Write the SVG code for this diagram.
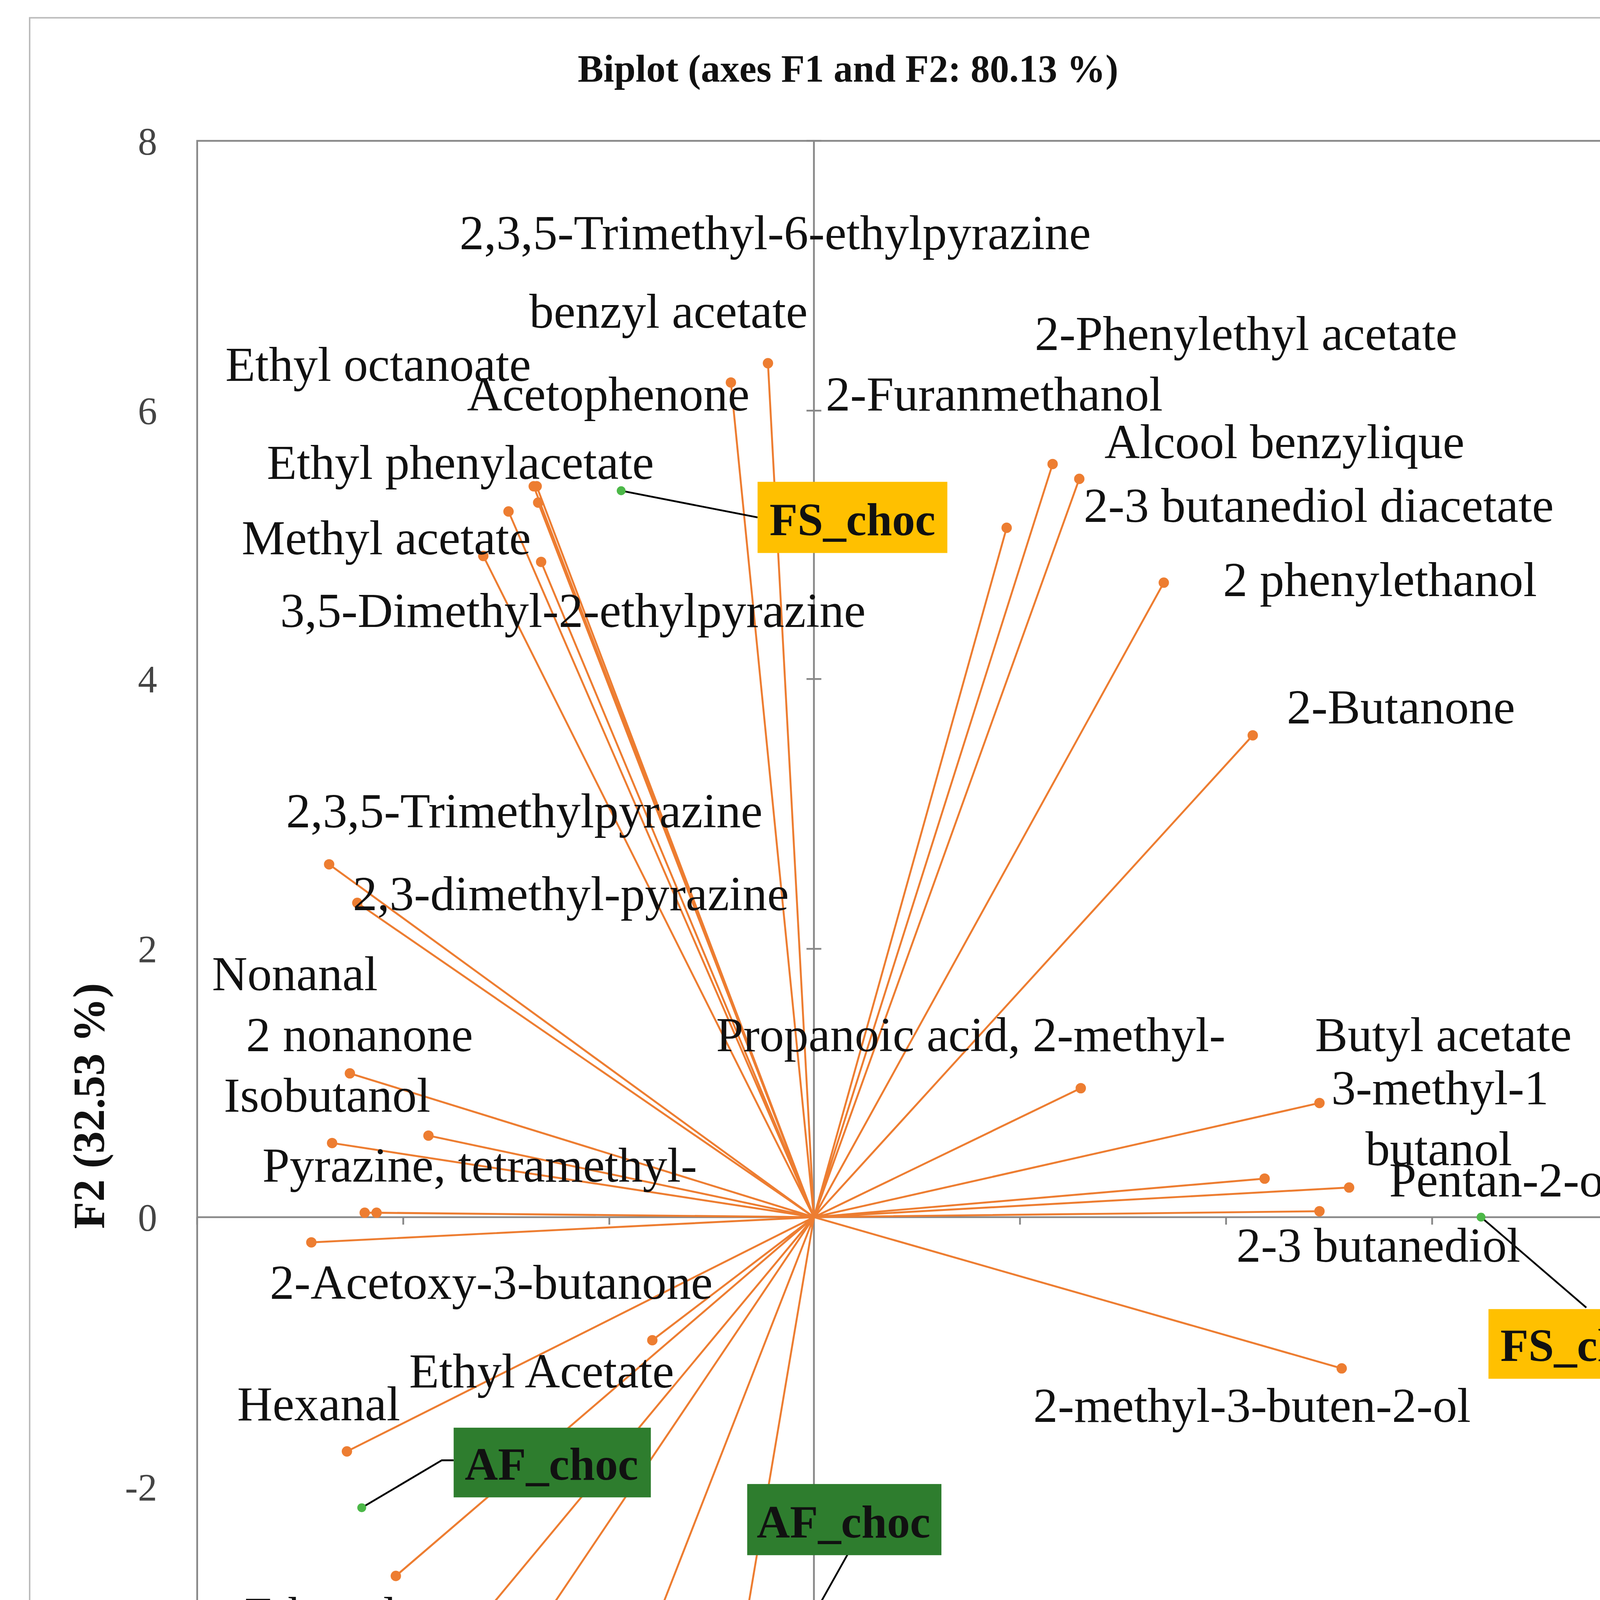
<svg xmlns="http://www.w3.org/2000/svg" width="4338" height="5939" viewBox="0 0 4338 5939">
<style>
.v{stroke:#ED7D31;stroke-width:1.3;fill:none}
.d{fill:#ED7D31}
.g{fill:#4CB848}
.l{font-family:"Liberation Serif",serif;font-size:33px;fill:#111}
.t{font-family:"Liberation Serif",serif;font-size:26px;fill:#444}
.b{font-family:"Liberation Serif",serif;font-weight:bold;fill:#111}
.ax{stroke:#888;stroke-width:1.2;fill:none}
.c{stroke:#000;stroke-width:1.2;fill:none}
</style>
<rect width="4338" height="5939" fill="#fff"/>
<g transform="scale(3.7953)">
<rect x="20" y="12" width="1102" height="1546" fill="none" stroke="#bbb" stroke-width="1"/>
<g id="frame">
<rect x="133" y="95" width="972" height="1271" class="ax"/>
<line x1="133" y1="821" x2="1105" y2="821" class="ax"/>
<line x1="549" y1="95" x2="549" y2="1366" class="ax"/>
<path class="ax" d="M133 821v5M272 821v5M411 821v5M688 821v5M827 821v5M966 821v5M544 95h10M544 277h10M544 458h10M544 640h10M544 1003h10M544 1185h10"/>
</g>
<g id="ticks" class="t" text-anchor="end">
<text x="106" y="104">8</text><text x="106" y="286">6</text><text x="106" y="467">4</text><text x="106" y="649">2</text><text x="106" y="830">0</text><text x="106" y="1012">-2</text><text x="106" y="1194">-4</text><text x="106" y="1375">-6</text>
</g>
<g class="t" text-anchor="middle">
<text x="133" y="1414">-6</text><text x="272" y="1414">-4</text><text x="411" y="1414">-2</text><text x="549" y="1414">0</text><text x="688" y="1414">2</text><text x="827" y="1414">4</text><text x="966" y="1414">6</text><text x="1105" y="1414">8</text>
</g>
<text class="b" x="572" y="55" font-size="26" text-anchor="middle">Biplot (axes F1 and F2: 80.13 %)</text>
<text class="b" x="619" y="1459" font-size="30" text-anchor="middle">F1 (47.61 %)</text>
<text class="b" font-size="30" text-anchor="middle" transform="translate(70,746) rotate(-90)">F2 (32.53 %)</text>
<text class="b" x="47" y="1515" font-size="28">B</text>
<g id="connectors">
<path class="v" d="M549 821L518 245M549 821L493 258M549 821L360 328M549 821L362 328M549 821L363 339M549 821L343 345M549 821L326 375M549 821L365 379M549 821L679 356M549 821L710 313M549 821L728 323M549 821L785 393M549 821L845 496M549 821L222 583M549 821L241 609M549 821L236 724M549 821L289 766M549 821L224 771M549 821L246 818M549 821L254 818M549 821L210 838M549 821L729 734M549 821L890 744M549 821L853 795M549 821L910 801M549 821L890 817M549 821L905 923M549 821L440 904M549 821L234 979M549 821L267 1063M549 821L299 1122M549 821L304 1185M549 821L430 1126M549 821L483 1212"/>
<path class="c" d="M419 331L511 349M999 821L1070 882M244 1017L298 985H306M535 1114L572 1048"/>
</g>
<g id="dots">
<g class="d">
<circle cx="518" cy="245" r="3.5"/><circle cx="493" cy="258" r="3.5"/><circle cx="360" cy="328" r="3.5"/><circle cx="362" cy="328" r="3.5"/><circle cx="363" cy="339" r="3.5"/><circle cx="343" cy="345" r="3.5"/><circle cx="326" cy="375" r="3.5"/><circle cx="365" cy="379" r="3.5"/><circle cx="679" cy="356" r="3.5"/><circle cx="710" cy="313" r="3.5"/><circle cx="728" cy="323" r="3.5"/><circle cx="785" cy="393" r="3.5"/><circle cx="845" cy="496" r="3.5"/><circle cx="222" cy="583" r="3.5"/><circle cx="241" cy="609" r="3.5"/><circle cx="236" cy="724" r="3.5"/><circle cx="289" cy="766" r="3.5"/><circle cx="224" cy="771" r="3.5"/><circle cx="246" cy="818" r="3.5"/><circle cx="254" cy="818" r="3.5"/><circle cx="210" cy="838" r="3.5"/><circle cx="729" cy="734" r="3.5"/><circle cx="890" cy="744" r="3.5"/><circle cx="853" cy="795" r="3.5"/><circle cx="910" cy="801" r="3.5"/><circle cx="890" cy="817" r="3.5"/><circle cx="905" cy="923" r="3.5"/><circle cx="440" cy="904" r="3.5"/><circle cx="234" cy="979" r="3.5"/><circle cx="267" cy="1063" r="3.5"/><circle cx="299" cy="1122" r="3.5"/><circle cx="304" cy="1185" r="3.5"/><circle cx="430" cy="1126" r="3.5"/><circle cx="483" cy="1212" r="3.5"/>
</g>
<g class="g"><circle cx="419" cy="331" r="3"/><circle cx="999" cy="821" r="3"/><circle cx="244" cy="1017" r="3"/><circle cx="535" cy="1114" r="3"/></g>
</g>
<g id="labels" class="l">
<text x="310" y="168">2,3,5-Trimethyl-6-ethylpyrazine</text>
<text x="357" y="221">benzyl acetate</text>
<text x="152" y="257">Ethyl octanoate</text>
<text x="315" y="277">Acetophenone</text>
<text x="698" y="236">2-Phenylethyl acetate</text>
<text x="557" y="277">2-Furanmethanol</text>
<text x="745" y="309">Alcool benzylique</text>
<text x="180" y="323">Ethyl phenylacetate</text>
<text x="731" y="352">2-3 butanediol diacetate</text>
<text x="163" y="374">Methyl acetate</text>
<text x="825" y="402">2 phenylethanol</text>
<text x="189" y="423">3,5-Dimethyl-2-ethylpyrazine</text>
<text x="868" y="488">2-Butanone</text>
<text x="193" y="558">2,3,5-Trimethylpyrazine</text>
<text x="238" y="614">2,3-dimethyl-pyrazine</text>
<text x="143" y="668">Nonanal</text>
<text x="166" y="709">2 nonanone</text>
<text x="483" y="709">Propanoic acid, 2-methyl-</text>
<text x="887" y="709">Butyl acetate</text>
<text x="151" y="750">Isobutanol</text>
<text x="898" y="745">3-methyl-1</text>
<text x="177" y="797">Pyrazine, tetramethyl-</text>
<text x="921" y="786">butanol</text>
<text x="937" y="807">Pentan-2-ol</text>
<text x="834" y="851">2-3 butanediol</text>
<text x="182" y="876">2-Acetoxy-3-butanone</text>
<text x="276" y="936">Ethyl Acetate</text>
<text x="160" y="958">Hexanal</text>
<text x="697" y="959">2-methyl-3-buten-2-ol</text>
<text x="165" y="1100">Ethanol</text>
<text x="347" y="1153">Butane-2,3-</text>
<text x="197" y="1161">Acetoin</text>
<text x="385" y="1196">dione</text>
<text x="172" y="1228">sec-Butyl</text>
<text x="380" y="1253">Heptan-2-one</text>
<text x="187" y="1268">acetate</text>
</g>
<g id="fs1"><rect x="511" y="325" width="128" height="48" fill="#FFC000"/><text class="b" x="575" y="361" font-size="31" text-anchor="middle">FS_choc</text></g>
<g id="fs2"><rect x="1004" y="883" width="129" height="47" fill="#FFC000"/><text class="b" x="1068" y="918" font-size="31" text-anchor="middle">FS_choc</text></g>
<g id="af1"><rect x="306" y="963" width="133" height="47" fill="#2E7D2E"/><text class="b" x="372" y="998" font-size="31" text-anchor="middle">AF_choc</text></g>
<g id="af2"><rect x="504" y="1001" width="131" height="48" fill="#2E7D2E"/><text class="b" x="569" y="1037" font-size="31" text-anchor="middle">AF_choc</text></g>
<g id="legend">
<rect x="364" y="1485" width="551" height="45" fill="#fff" stroke="#000" stroke-width="1"/>
<circle cx="402" cy="1508" r="3.5" class="d"/><text class="l" x="420" y="1518" font-size="29">Active variables</text>
<circle cx="656" cy="1508" r="3" class="g"/><text class="l" x="664" y="1518" font-size="29">Active observations</text>
</g>
</g>
</svg>
